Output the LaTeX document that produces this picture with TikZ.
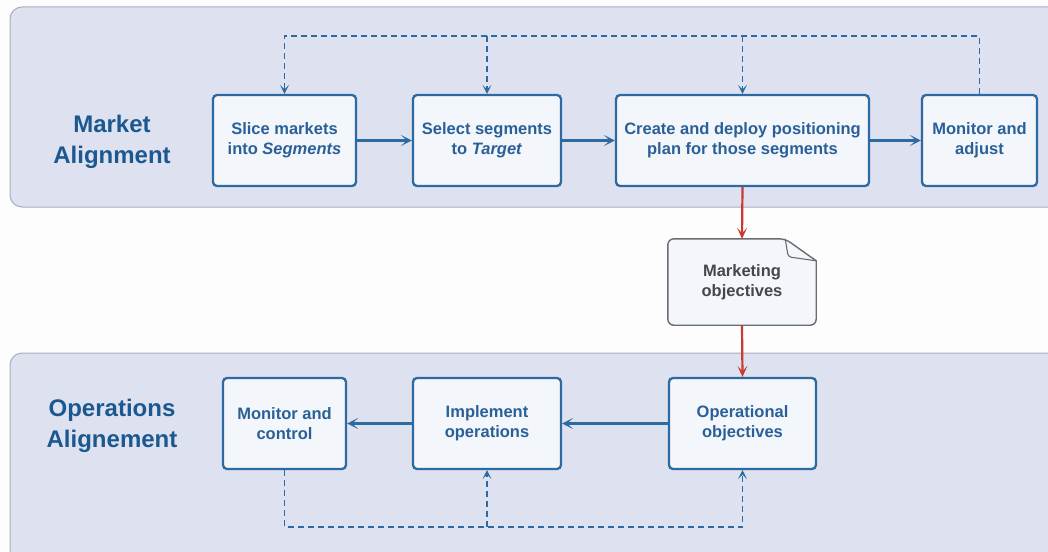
\documentclass[tikz,border=0pt]{standalone}
\usepackage{fontspec}
\setmainfont{Liberation Sans}
\usetikzlibrary{arrows.meta}
\definecolor{bandfill}{HTML}{DEE2F0}
\definecolor{bandline}{HTML}{A9AEBB}
\definecolor{boxfill}{HTML}{F3F6FB}
\definecolor{boxline}{HTML}{2E6AA2}
\definecolor{boxtext}{HTML}{2A6098}
\definecolor{titletext}{HTML}{1C5890}
\definecolor{redflow}{HTML}{C9392E}
\definecolor{docline}{HTML}{6A6C70}
\definecolor{doctext}{HTML}{45474B}
\tikzset{
  band/.style={fill=bandfill, draw=bandline, line width=1pt, rounded corners=12pt},
  stepbox/.style={draw=boxline, fill=boxfill, line width=2.3pt, rounded corners=4pt,
    minimum height=91pt, align=center, text=boxtext, inner sep=0pt,
    font=\bfseries\fontsize{16.5}{20}\selectfont},
  title/.style={align=center, text=titletext, font=\bfseries\fontsize{24}{31}\selectfont},
  flow/.style={draw=boxline, line width=2.3pt, -{Stealth[length=11pt,width=11pt,inset=6pt]}},
  fb/.style={draw=boxline, line width=1.5pt, dash pattern=on 6pt off 4pt,
    -{Stealth[length=9pt,width=9pt,inset=4.5pt]}},
  redarrow/.style={draw=redflow, line width=2.2pt, -{Stealth[length=11pt,width=10pt,inset=5.5pt]}},
  doctxt/.style={align=center, text=doctext, font=\bfseries\fontsize{16.5}{20}\selectfont},
}
\begin{document}
\begin{tikzpicture}[x=1pt,y=-1pt]
\useasboundingbox (0,0) rectangle (1048,551);
\clip (0,0) rectangle (1048,551);
\fill[white!98!black!40!white] (0,0) rectangle (1048,551);

% the two alignment bands
\draw[band] (10,7) rectangle (1064,207);
\draw[band] (10,353) rectangle (1064,575);

% band titles
\node[title] (mkt) at (112,142) {Market\\Alignment};
\node[title] (ops) at (112,426) {Operations\\Alignement};

% market alignment steps
\node[stepbox, minimum width=143pt] (slice)  at (284.5,140.5) {Slice markets\\into \textit{Segments}};
\node[stepbox, minimum width=148pt] (select) at (487,140.5)   {Select segments\\to \textit{Target}};
\node[stepbox, minimum width=253pt] (create) at (742.5,140.5) {Create and deploy positioning\\plan for those segments};
\node[stepbox, minimum width=115pt] (madj)   at (979.5,140.5) {Monitor and\\adjust};

% operations alignment steps
\node[stepbox, minimum width=123pt] (mctrl) at (284.5,423.5) {Monitor and\\control};
\node[stepbox, minimum width=148pt] (impl)  at (487,423.5)   {Implement\\operations};
\node[stepbox, minimum width=147pt] (opobj) at (742.5,423.5) {Operational\\objectives};

% marketing objectives document: outline first, then its text
\node[minimum width=148pt, minimum height=86pt, inner sep=0pt] (mobj) at (742,282) {};
\draw[docline, fill=boxfill, line width=1.4pt, rounded corners=6pt]
  (mobj.north west) -- ([xshift=-31pt]mobj.north east)
  [sharp corners] -- ([yshift=-22pt]mobj.north east)
  [rounded corners=6pt] -- (mobj.south east) -- (mobj.south west) -- cycle;
\draw[docline, line width=1.1pt, rounded corners=3pt]
  ([xshift=-31pt]mobj.north east) -- ([xshift=-28pt,yshift=-18pt]mobj.north east)
  -- ([yshift=-22pt]mobj.north east);
\node[doctxt] (mobjtext) at (mobj.center) {Marketing\\objectives};

% main flow
\draw[flow] (slice) -- (select);
\draw[flow] (select) -- (create);
\draw[flow] (create) -- (madj);
\draw[flow] (opobj) -- (impl);
\draw[flow] (impl) -- (mctrl);

% objectives hand-over
\draw[redarrow] (create.south) -- (mobj.north);
\draw[redarrow] (mobj.south) -- (opobj.north);

% market feedback loop
\coordinate (ltop) at (284.5,36);
\draw[fb] (madj.north) |- (ltop) -- (slice.north);
\draw[fb] (select.north |- ltop) -- (select.north);
\draw[fb] (create.north |- ltop) -- (create.north);

% operations feedback loop
\coordinate (lbot) at (284.5,527);
\draw[fb] (mctrl.south) -- (lbot) -| (opobj.south);
\draw[fb] (impl.south |- lbot) -- (impl.south);
\end{tikzpicture}
\end{document}
